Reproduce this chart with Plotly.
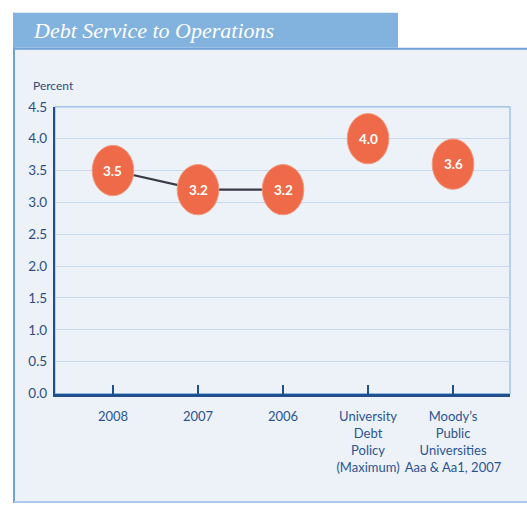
import plotly.graph_objects as go

categories = ["2008", "2007", "2006",
              "University<br>Debt<br>Policy<br>(Maximum)",
              "Moody’s<br>Public<br>Universities<br>Aaa & Aa1, 2007"]
values = [3.5, 3.2, 3.2, 4.0, 3.6]
line_points = 3  # first three points (years) are connected
y_ticks = [0.0, 0.5, 1.0, 1.5, 2.0, 2.5, 3.0, 3.5, 4.0, 4.5]
title_text = "Debt Service to Operations"
y_title = "Percent"

W, H = 527, 512
FONT = "Lato, Open Sans, sans-serif"
AXIS_BLUE = "#1f4f8c"
LABEL_BLUE = "#2b5591"
GRID = "#c6d9ee"
PANEL = "#edf1f8"
TAB = "#82b2de"
BORDER = "#6fa2d6"
DOT = "#ef6a48"

idx = list(range(len(categories)))

fig = go.Figure()
fig.add_trace(go.Scatter(
    x=idx[:line_points], y=values[:line_points], mode="lines",
    line=dict(color="#3a3a46", width=2.2), hoverinfo="skip", showlegend=False,
))

def px(x):
    return x / W

def py(y):
    return 1 - y / H

shapes = []
shapes.append(dict(type="rect", xref="paper", yref="paper", x0=px(14), x1=px(W + 5), y0=py(510), y1=py(42),
                   fillcolor=PANEL, line=dict(width=0), layer="below"))
shapes.append(dict(type="line", xref="paper", yref="paper", x0=px(14), x1=px(14), y0=py(511), y1=py(5),
                   line=dict(color=BORDER, width=2), layer="below"))
shapes.append(dict(type="line", xref="paper", yref="paper", x0=px(14), x1=px(W), y0=py(42), y1=py(42),
                   line=dict(color=BORDER, width=2), layer="below"))
shapes.append(dict(type="line", xref="paper", yref="paper", x0=px(14), x1=px(W), y0=py(510), y1=py(510),
                   line=dict(color="#a9cbe9", width=2), layer="below"))
shapes.append(dict(type="rect", xref="paper", yref="paper", x0=px(13), x1=px(398), y0=py(41), y1=py(5),
                   fillcolor=TAB, line=dict(width=0), layer="below"))
shapes.append(dict(type="rect", xref="x domain", yref="y domain", x0=0, x1=1, y0=0, y1=1,
                   fillcolor="rgba(0,0,0,0)", line=dict(color="#93bbe2", width=1.2), layer="below"))

rx, ry = 0.245, 0.395
for i, v in zip(idx, values):
    shapes.append(dict(type="circle", xref="x", yref="y", x0=i - rx, x1=i + rx, y0=v - ry, y1=v + ry,
                       fillcolor=DOT, line=dict(color="#f39a80", width=1), layer="above"))

annotations = []
for i, v in zip(idx, values):
    annotations.append(dict(x=i, y=v, xref="x", yref="y", text=f"<b>{v:.1f}</b>", showarrow=False,
                            font=dict(family=FONT, size=13.5, color="white")))
annotations.append(dict(x=px(31), y=py(23), xref="paper", yref="paper", xanchor="left", yanchor="middle",
                        text=f"<i>{title_text}</i>", showarrow=False,
                        font=dict(family="Liberation Serif, DejaVu Serif, serif", size=22, color="white")))
annotations.append(dict(x=px(31), y=py(80), xref="paper", yref="paper", xanchor="left", yanchor="middle",
                        text=y_title, showarrow=False,
                        font=dict(family=FONT, size=12, color="#2e4f7e")))

fig.update_layout(
    width=W, height=H, margin=dict(l=0, r=0, t=0, b=0),
    paper_bgcolor="white", plot_bgcolor="rgba(0,0,0,0)",
    shapes=shapes, annotations=annotations, showlegend=False,
    xaxis=dict(
        domain=[px(55), px(510)], range=[-0.682, 4.67],
        tickmode="array", tickvals=idx, ticktext=categories, tickangle=0,
        ticks="inside", ticklen=9, tickwidth=2, tickcolor=AXIS_BLUE,
        showline=True, linecolor=AXIS_BLUE, linewidth=2.5, showgrid=False, zeroline=False,
        tickfont=dict(family=FONT, size=13, color=LABEL_BLUE), ticklabelstandoff=9,
    ),
    yaxis=dict(
        domain=[py(398), py(102)], range=[0, 4.5],
        tickmode="array", tickvals=y_ticks, ticktext=[f"{t:.1f}" for t in y_ticks],
        showline=True, linecolor=AXIS_BLUE, linewidth=2.2, showgrid=True, gridcolor=GRID, gridwidth=1.2,
        zeroline=False, ticks="", tickfont=dict(family=FONT, size=13.5, color="#2e4f7e"), ticklabelstandoff=3,
    ),
)

fig.write_html("out.html")
